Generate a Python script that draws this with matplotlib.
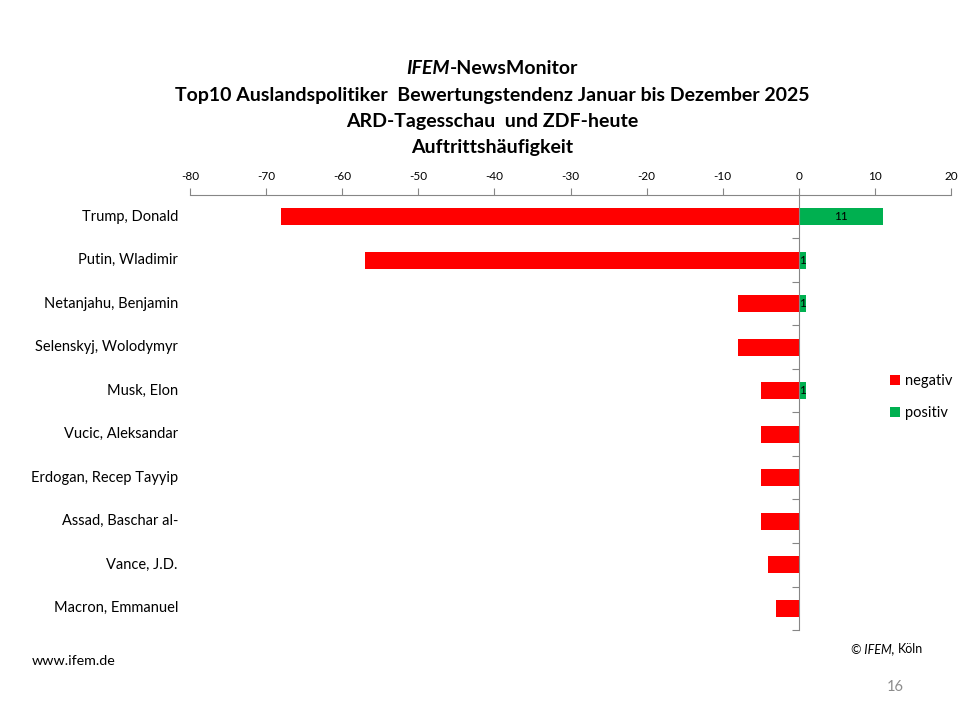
import matplotlib
matplotlib.use("Agg")
import matplotlib.pyplot as plt
import matplotlib.transforms as mtransforms
from matplotlib.patches import Patch

politicians = ["Trump, Donald", "Putin, Wladimir", "Netanjahu, Benjamin",
               "Selenskyj, Wolodymyr", "Musk, Elon", "Vucic, Aleksandar",
               "Erdogan, Recep Tayyip", "Assad, Baschar al-", "Vance, J.D.",
               "Macron, Emmanuel"]
negativ = [-68, -57, -8, -8, -5, -5, -5, -5, -4, -3]
positiv = [11, 1, 1, 0, 1, 0, 0, 0, 0, 0]
x_ticks = [-80, -70, -60, -50, -40, -30, -20, -10, 0, 10, 20]

FONT = ["Lato", "DejaVu Sans"]
plt.rcParams['font.family'] = FONT

RED = "#FF0000"
GREEN = "#00B050"
GREY = "#868686"

fig = plt.figure(figsize=(9.6, 7.2), dpi=100)
W, H = 960, 720
left, right, top, bottom = 190, 951, 195, 630
ax = fig.add_axes([left / W, 1 - bottom / H, (right - left) / W, (bottom - top) / H])

y = list(range(len(politicians)))
ax.barh(y, negativ, height=0.4, color=RED, zorder=2)
ax.barh(y, positiv, height=0.4, color=GREEN, zorder=2)

for i, v in enumerate(positiv):
    if v > 0:
        ax.text(v / 2, i, str(v), ha="center", va="center", fontsize=8.5, color="black", zorder=3)

ax.set_xlim(-80, 20)
ax.set_ylim(len(politicians) - 0.5, -0.5)
ax.set_xticks(x_ticks)
ax.set_xticklabels([str(t) for t in x_ticks], fontsize=8.5)
ax.xaxis.tick_top()
ax.tick_params(axis="x", direction="out", length=5, color=GREY, pad=4)

ax.spines["left"].set_position(("data", 0))
ax.spines["left"].set_color(GREY)
ax.spines["top"].set_color(GREY)
ax.spines["right"].set_visible(False)
ax.spines["bottom"].set_visible(False)
ax.set_yticks([i + 0.5 for i in range(len(politicians))])
ax.set_yticklabels([])
ax.tick_params(axis="y", direction="out", length=5, color=GREY)

trans = mtransforms.blended_transform_factory(ax.transAxes, ax.transData)
for i, name in enumerate(politicians):
    ax.text(-12 / (right - left), i, name, transform=trans, ha="right", va="center",
            fontsize=10.5, color="black")

handles = [Patch(facecolor=RED, label="negativ"), Patch(facecolor=GREEN, label="positiv")]
fig.legend(handles=handles, loc="upper left", bbox_to_anchor=(877 / W, 1 - 361 / H),
           frameon=False, fontsize=10.5, handlelength=0.65, handleheight=0.65,
           handletextpad=0.4, labelspacing=1.25)

title_x = 492 / W
TS = 14
t1a = fig.text(0, 1 - 69 / H, "IFEM", ha="left", va="center", fontsize=TS,
               fontweight="bold", fontstyle="italic")
t1b = fig.text(0, 1 - 69 / H, "-NewsMonitor", ha="left", va="center", fontsize=TS,
               fontweight="bold")
fig.text(title_x, 1 - 95 / H, "Top10 Auslandspolitiker  Bewertungstendenz Januar bis Dezember 2025",
         ha="center", va="center", fontsize=TS, fontweight="bold")
fig.text(title_x, 1 - 121 / H, "ARD-Tagesschau  und ZDF-heute", ha="center", va="center",
         fontsize=TS, fontweight="bold")
fig.text(title_x, 1 - 147 / H, "Auftrittshäufigkeit", ha="center", va="center",
         fontsize=TS, fontweight="bold")

fig.canvas.draw()
r = fig.canvas.get_renderer()
wa = t1a.get_window_extent(r).width
wb = t1b.get_window_extent(r).width
start = title_x * W - (wa + wb) / 2
t1a.set_x(start / W)
t1b.set_x((start + wa) / W)

fig.text(32 / W, 1 - 661 / H, "www.ifem.de", ha="left", va="center", fontsize=10.3)
tk = fig.text(923 / W, 1 - 649 / H, "Köln", ha="right", va="center", fontsize=9)
fig.canvas.draw()
wk = tk.get_window_extent(r).width
fig.text((923 - wk - 3) / W, 1 - 649 / H, "© IFEM,", ha="right", va="center", fontsize=9,
         fontstyle="italic")
fig.text(895 / W, 1 - 687 / H, "16", ha="center", va="center", fontsize=10.5, color="#8C8C8C")

fig.savefig("out.png", dpi=100)
